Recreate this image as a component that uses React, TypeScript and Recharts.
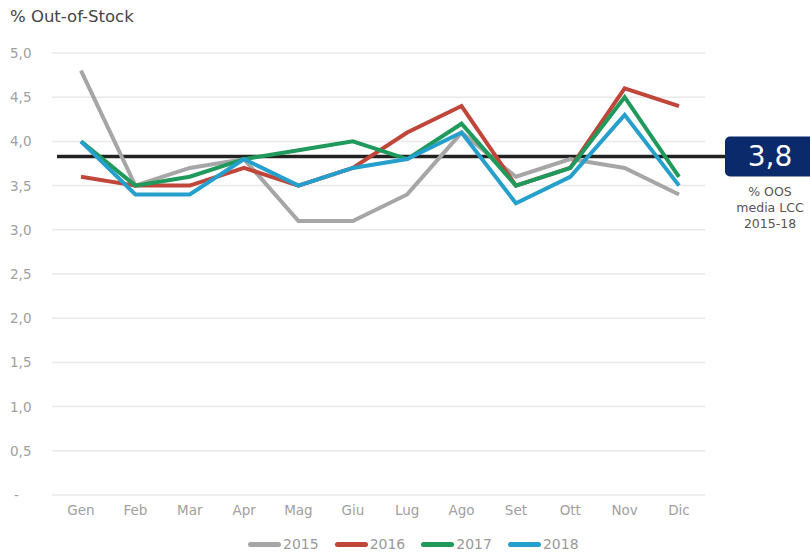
import React from 'react';
import { LineChart, Line, XAxis, YAxis, CartesianGrid, ReferenceLine, Legend } from 'recharts';

const months = ['Gen', 'Feb', 'Mar', 'Apr', 'Mag', 'Giu', 'Lug', 'Ago', 'Set', 'Ott', 'Nov', 'Dic'];
const oos2015 = [4.8, 3.5, 3.7, 3.8, 3.1, 3.1, 3.4, 4.1, 3.6, 3.8, 3.7, 3.4];
const oos2016 = [3.6, 3.5, 3.5, 3.7, 3.5, 3.7, 4.1, 4.4, 3.5, 3.7, 4.6, 4.4];
const oos2017 = [4.0, 3.5, 3.6, 3.8, 3.9, 4.0, 3.8, 4.2, 3.5, 3.7, 4.5, 3.6];
const oos2018 = [4.0, 3.4, 3.4, 3.8, 3.5, 3.7, 3.8, 4.1, 3.3, 3.6, 4.3, 3.5];
const yTicks = [0, 0.5, 1, 1.5, 2, 2.5, 3, 3.5, 4, 4.5, 5];
const avgLcc = 3.83;
const avgNote = ['% OOS', 'media LCC', '2015-18'];

const series = [
  { key: '2015', color: '#a6a6a6', values: oos2015 },
  { key: '2016', color: '#c0463a', values: oos2016 },
  { key: '2017', color: '#1f9a5c', values: oos2017 },
  { key: '2018', color: '#259fcc', values: oos2018 },
];

const data = months.map((m, i) => {
  const row: any = { month: m };
  series.forEach((s) => { row[s.key] = s.values[i]; });
  return row;
});

const fmt = (v: number) => (v === 0 ? '-' : v.toFixed(1).replace('.', ','));

const YTick = (props: any) => {
  const { y, payload } = props;
  const isZero = payload.value === 0;
  return (
    <text x={isZero ? 14 : 10} y={y} dy={5} fill="#a0a0a0" fontSize={13.5} textAnchor="start">
      {fmt(payload.value)}
    </text>
  );
};

const AvgLine = (props: any) => {
  const { x1, y1, x2 } = props;
  const boxX = x2 + 20;
  const cx = boxX + 45;
  return (
    <g>
      <line x1={x1 + 5} y1={y1} x2={boxX} y2={y1} stroke="#222" strokeWidth={3.5} />
      <rect x={boxX} y={y1 - 20} width={100} height={40} rx={5} fill="#0b2a6b" />
      <text x={cx} y={y1 + 10} fill="#fff" fontSize={28} textAnchor="middle">
        {fmt(avgLcc)}
      </text>
      {avgNote.map((t, i) => (
        <text key={t} x={cx} y={y1 + 40 + i * 16} fill="#555" fontSize={12.5} textAnchor="middle">
          {t}
        </text>
      ))}
    </g>
  );
};

const LegendContent = (props: any) => {
  const { payload } = props;
  return (
    <div style={{ display: 'flex', justifyContent: 'flex-start', paddingLeft: 248, height: 16, alignItems: 'center' }}>
      {payload.map((p: any) => (
        <div key={p.value} style={{ display: 'flex', alignItems: 'center', marginRight: 16 }}>
          <span style={{ display: 'inline-block', width: 33, height: 5, borderRadius: 3, background: p.color, marginRight: 2 }} />
          <span style={{ color: '#999', fontSize: 14 }}>{p.value}</span>
        </div>
      ))}
    </div>
  );
};

export default function App() {
  return (
    <div style={{ position: 'absolute', left: 0, top: 0, width: 810, height: 552, background: '#fff', fontFamily: '"DejaVu Sans", sans-serif', overflow: 'hidden' }}>
      <div style={{ position: 'absolute', left: 10, top: 7, fontSize: 16.5, color: '#444' }}>% Out-of-Stock</div>
      <LineChart width={810} height={552} data={data} margin={{ top: 53, right: 105, left: 0, bottom: 0 }}>
        <CartesianGrid horizontal vertical={false} stroke="#e8e8e8" strokeWidth={1.5} />
        <XAxis
          dataKey="month"
          height={41}
          padding={{ left: 29, right: 26 }}
          axisLine={false}
          tickLine={false}
          tickMargin={4}
          tick={{ fill: '#a0a0a0', fontSize: 13.5 }}
        />
        <YAxis width={52} domain={[0, 5]} ticks={yTicks} axisLine={false} tickLine={false} tick={<YTick />} />
        <ReferenceLine y={avgLcc} shape={AvgLine} />
        {series.map((s) => (
          <Line
            key={s.key}
            dataKey={s.key}
            name={s.key}
            stroke={s.color}
            strokeWidth={4}
            dot={false}
            activeDot={false}
            type="linear"
            isAnimationActive={false}
          />
        ))}
        <Legend verticalAlign="bottom" content={<LegendContent />} wrapperStyle={{ height: 16 }} />
      </LineChart>
    </div>
  );
}
